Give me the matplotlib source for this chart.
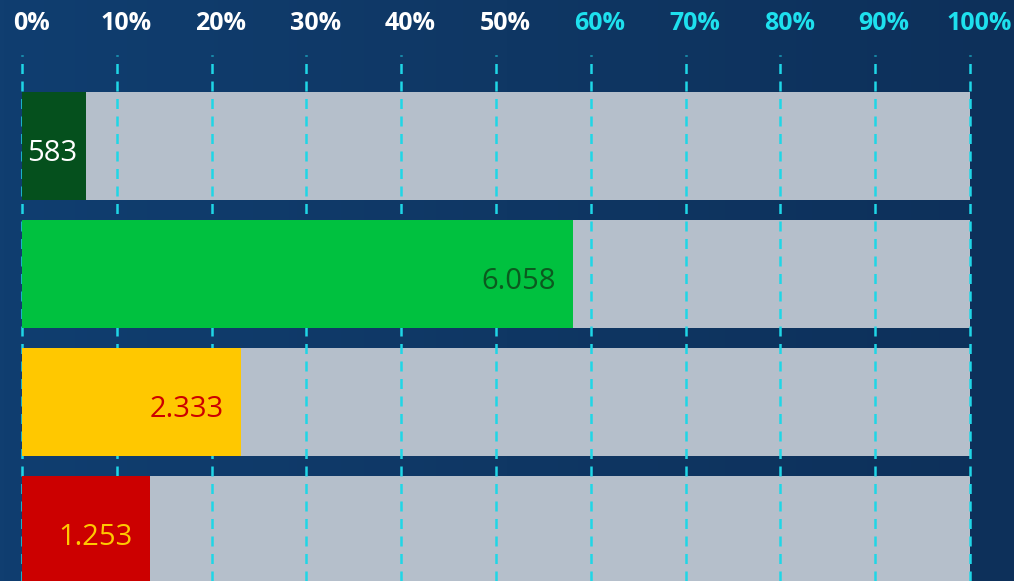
import numpy as np
import matplotlib
matplotlib.use("Agg")
import matplotlib.pyplot as plt

# data
values = ["583", "6.058", "2.333", "1.253"]
shares = [6.7, 58.1, 23.1, 13.5]          # bar length in %
bar_colors = ["#05501d", "#00c13f", "#ffc800", "#cc0000"]
text_colors = ["#ffffff", "#0b5a1f", "#cc0000", "#ffc800"]
ticks = [0, 10, 20, 30, 40, 50, 60, 70, 80, 90, 100]
tick_colors = ["#ffffff"] * 6 + ["#1ee0ee"] * 5

W, H = 1014, 581
fig = plt.figure(figsize=(W / 100, H / 100), dpi=100)
ax = fig.add_axes([0, 0, 1, 1])

# pixel -> data: 0% at px 22, 100% at px 970; rows pitch 128 px, first centre at px 146
x0, x100 = 22, 970
k = (x100 - x0) / 100
ax.set_xlim(-x0 / k, (W - x0) / k)
ax.set_ylim((H - 146) / 128, -146 / 128)
ax.axis("off")

# background gradient
grad = np.linspace(0, 1, 256)[None, :]
bg = matplotlib.colors.LinearSegmentedColormap.from_list("bg", ["#103e70", "#0f3764", "#0d305a"])
ax.imshow(grad, cmap=bg, aspect="auto", extent=[*ax.get_xlim(), *ax.get_ylim()], zorder=0)

rows = np.arange(len(values))
ax.barh(rows, [100] * len(rows), height=108 / 128, color="#b5bfcb", zorder=1)
for t in ticks:
    ax.plot([t, t], [(H - 146) / 128, (55 - 146) / 128], color="#1fd6e6", lw=1.8,
            dashes=(4, 3), zorder=2)
ax.barh(rows, shares, height=108 / 128, color=bar_colors, zorder=3)

for t, c in zip(ticks, tick_colors):
    ax.text(t + 0.95, (23 - 146) / 128, f"{t}%", color=c, ha="center", va="center",
            fontsize=18, fontweight="bold", family="Open Sans", zorder=4)

for i, (v, s, tc) in enumerate(zip(values, shares, text_colors)):
    if s < 10:
        ax.text(0.5, i + 0.055, v, color=tc, ha="left", va="center", fontsize=21,
                family="Open Sans", zorder=4)
    else:
        ax.text(s - 1.8, i + 0.055, v, color=tc, ha="right", va="center", fontsize=21,
                family="Open Sans", zorder=4)

fig.savefig("out.png", dpi=100)
